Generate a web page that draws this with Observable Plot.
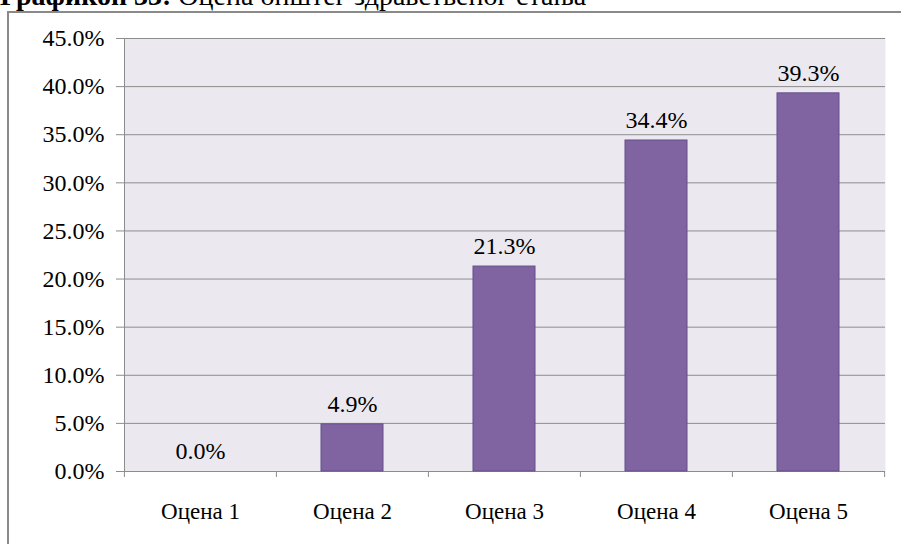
<!DOCTYPE html>
<html><head><meta charset="utf-8">
<script src="https://cdn.jsdelivr.net/npm/d3@7"></script>
<script src="https://cdn.jsdelivr.net/npm/@observablehq/plot@0.6"></script>
<style>
body{margin:0;background:#fff;overflow:hidden}
#wrap{position:relative;width:901px;height:544px;overflow:hidden;font-family:"Liberation Serif",serif;background:#fff}
#title{position:absolute;left:0;top:-18px;font-size:28px;line-height:28px;white-space:nowrap;color:#000;font-family:"Liberation Serif",serif}
#frame{position:absolute;left:7px;top:11px;width:1200px;height:1200px;border-left:2px solid #8a8a8a;border-top:2px solid #8a8a8a}
#chart{position:absolute;left:0;top:0}
#chart svg, #chart svg text{font-family:"Liberation Serif",serif !important;font-variant-numeric:normal !important}
</style></head><body>
<div id="wrap"><div id="title"><b>Графикон 33:</b> Оцена општег здравственог стања</div><div id="frame"></div><div id="chart"></div></div>
<script>
const categories = ["Оцена 1", "Оцена 2", "Оцена 3", "Оцена 4", "Оцена 5"];
const values = [0.0, 4.9, 21.3, 34.4, 39.3];
const yTicks = [0, 5, 10, 15, 20, 25, 30, 35, 40, 45];

const data = categories.map((c, i) => ({cat: c, val: values[i]}));
const W = 901, H = 544, mL = 124, mR = 16, mT = 38, mB = 73;
const step = (W - mL - mR) / categories.length;
const gridColor = "#8c8c8c";
const fmt = d => d.toFixed(1) + "%";

const chart = Plot.plot({
  width: W, height: H,
  marginLeft: mL, marginRight: mR, marginTop: mT, marginBottom: mB,
  style: "font-family: 'Liberation Serif', serif; font-size: 23px; color: #000; background: transparent; overflow: visible;",
  x: {type: "band", domain: categories, paddingInner: 0.59, paddingOuter: 0.295, label: null},
  y: {domain: [0, 45], label: null},
  marks: [
    Plot.frame({fill: "#ebe9ef", stroke: null}),
    Plot.ruleY(yTicks, {stroke: gridColor}),
    Plot.frame({anchor: "left", stroke: gridColor}),
    Plot.ruleX(categories, {x: d => d, y1: 0, y2: 0, insetBottom: -6, dx: -step / 2, stroke: gridColor}),
    Plot.ruleX(categories.slice(-1), {x: d => d, y1: 0, y2: 0, insetBottom: -6, dx: step / 2, stroke: gridColor}),
    Plot.barY(data.filter(d => d.val > 0), {x: "cat", y: "val", fill: "#8064a2", stroke: "#654e8a", strokeWidth: 1}),
    Plot.text(data, {x: "cat", y: "val", text: d => fmt(d.val), dy: -20, fill: "#000", fontSize: 24}),
    Plot.axisY({ticks: yTicks, tickFormat: fmt, tickSize: 8, tickPadding: 12, stroke: gridColor, fill: "#000", fontSize: 24, label: null}),
    Plot.axisX({tickSize: 0, tickPadding: 31, fill: "#000", fontSize: 23, label: null})
  ]
});
document.getElementById("chart").appendChild(chart);
</script>
</body></html>
